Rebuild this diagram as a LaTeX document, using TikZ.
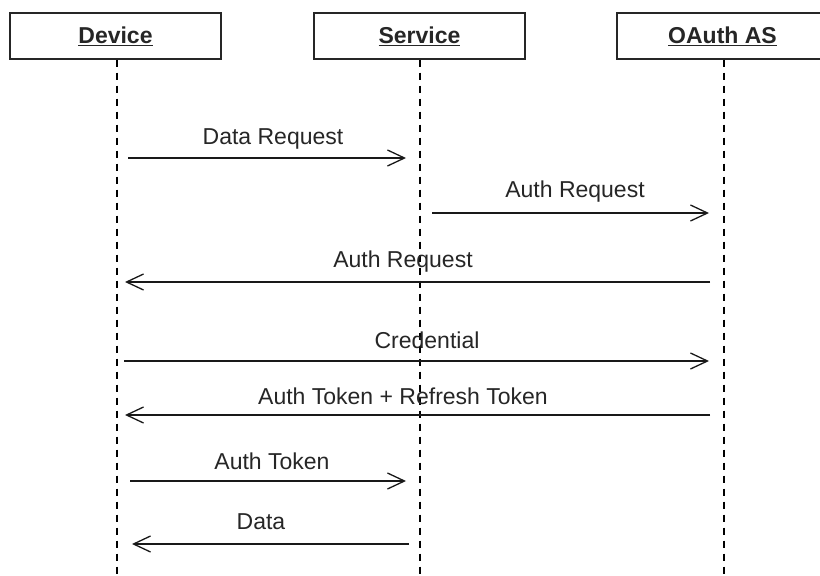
\documentclass[tikz,border=0pt]{standalone}
\usepackage{fontspec}
\setmainfont{Liberation Sans}
\usetikzlibrary{arrows.meta}
\begin{document}
\begin{tikzpicture}[x=1pt,y=-1pt,
  actor/.style={draw=black!85,line width=1.3pt,minimum width=211pt,minimum height=46pt,inner sep=0pt,
    font=\fontsize{23}{26}\selectfont\bfseries,text=black!85},
  life/.style={draw=black,line width=1.2pt,dash pattern=on 7pt off 6pt},
  msg/.style={draw=black!90,line width=1.3pt,-{Straight Barb[length=17pt,width=16pt,line width=1.3pt]}},
  lbl/.style={font=\fontsize{23}{26}\selectfont,text=black!85,inner sep=0pt}]
\useasboundingbox (0,0) rectangle (820,576);
\node[actor] (dev) at (115.5,36) {\underline{Device}};
\node[actor] (srv) at (419.5,36) {\underline{Service}};
\node[actor] (oas) at (722.5,36) {\underline{OAuth AS}};
\coordinate (devend) at (117,576);
\coordinate (srvend) at (420,576);
\coordinate (oasend) at (724,576);
\draw[life] (dev.south -| devend) -- (devend);
\draw[life] (srv.south -| srvend) -- (srvend);
\draw[life] (oas.south -| oasend) -- (oasend);
% messages
\coordinate (a1) at (128,158); \coordinate (b1) at (406,158);
\coordinate (a2) at (432,213); \coordinate (b2) at (709,213);
\coordinate (a3) at (710,282); \coordinate (b3) at (125,282);
\coordinate (a4) at (124,361); \coordinate (b4) at (709,361);
\coordinate (a5) at (710,415); \coordinate (b5) at (125,415);
\coordinate (a6) at (130,481); \coordinate (b6) at (406,481);
\coordinate (a7) at (409,544); \coordinate (b7) at (132,544);
\draw[msg] (a1) -- (b1);
\draw[msg] (a2) -- (b2);
\draw[msg] (a3) -- (b3);
\draw[msg] (a4) -- (b4);
\draw[msg] (a5) -- (b5);
\draw[msg] (a6) -- (b6);
\draw[msg] (a7) -- (b7);
\node[lbl] (l1) at (273,139) {Data Request};
\node[lbl] (l2) at (575,192) {Auth Request};
\node[lbl] (l3) at (403,262) {Auth Request};
\node[lbl] (l4) at (427,340) {Credential};
\node[lbl] (l5) at (403,396) {Auth Token + Refresh Token};
\node[lbl] (l6) at (272,461) {Auth Token};
\node[lbl] (l7) at (261,522) {Data};
\end{tikzpicture}
\end{document}
